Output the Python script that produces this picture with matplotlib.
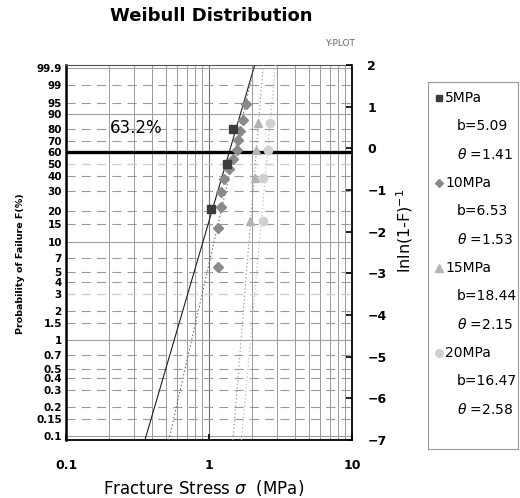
import numpy as np
import matplotlib.pyplot as plt

plt.rcParams['font.family'] = ['DejaVu Sans']
plt.rcParams['lines.scale_dashes'] = False

# stress (MPa) and median-rank failure probability (%)
s5 = [1.03, 1.34, 1.48]
f5 = [20.6, 50.0, 79.4]
s10 = [1.16, 1.16, 1.21, 1.22, 1.27, 1.38, 1.48, 1.57, 1.59, 1.66, 1.74, 1.81]
f10 = [5.6, 13.7, 21.8, 29.8, 37.9, 46.0, 54.0, 62.1, 70.2, 78.2, 86.3, 94.4]
s15 = [1.94, 2.10, 2.12, 2.21]
f15 = [15.9, 38.6, 61.4, 84.1]
s20 = [2.38, 2.40, 2.57, 2.67]
f20 = [15.9, 38.6, 61.4, 84.1]

names = ['5MPa', '10MPa', '15MPa', '20MPa']
b_vals = [5.09, 6.53, 18.44, 16.47]
theta_vals = [1.41, 1.53, 2.15, 2.58]

f_ticks = [99.9, 99, 95, 90, 80, 70, 60, 50, 40, 30, 20, 15, 10, 7, 5, 4, 3, 2,
           1.5, 1, 0.7, 0.5, 0.4, 0.3, 0.2, 0.15, 0.1]
f_solid = [99.9, 90, 10, 1, 0.1]
f_light = [50, 3]
f_thick = 60
y_right = [2, 1, 0, -1, -2, -3, -4, -5, -6, -7]


def wy(f):
    f = np.asarray(f, dtype=float) / 100.0
    return np.log(-np.log(1.0 - f))


fig = plt.figure(figsize=(5.2, 4.98), dpi=100)
W, H = 520.0, 498.0
ax = fig.add_axes([66 / W, 1 - 440 / H, 286 / W, 375 / H])
ax.set_xscale('log')
ax.set_xlim(0.1, 10)
ax.set_ylim(-7, 2)

# grid
for v in list(np.arange(0.2, 1.0, 0.1)) + list(np.arange(2, 10, 1)):
    ax.axvline(v, color='#9a9a9a', lw=0.7, zorder=1)
ax.axvline(1, color='#707070', lw=0.8, zorder=1)
for f in f_ticks:
    y = wy(f)
    if f == f_thick:
        ax.axhline(y, color='black', lw=2.4, zorder=3)
    elif f in f_solid:
        ax.axhline(y, color='#a0a0a0', lw=0.8, zorder=1)
    elif f in f_light:
        ax.axhline(y, color='#cfcfcf', lw=1.0, dashes=(6.5, 4.5), zorder=1)
    else:
        ax.axhline(y, color='#9a9a9a', lw=0.8, dashes=(6.5, 4.5), zorder=1)

# fitted lines
yy = np.linspace(-7, 2, 50)
line_styles = [('#202020', '-'), ('#666666', ':'), ('#9a9a9a', ':'), ('#bdbdbd', ':')]
for bb, th, (c, ls) in zip(b_vals, theta_vals, line_styles):
    ax.plot(th * np.exp(yy / bb), yy, color=c, ls=ls, lw=0.8, zorder=4)

# data points
ax.plot(s5, wy(f5), 's', color='#3c3c3c', ms=6, zorder=6)
ax.plot(s10, wy(f10), 'D', color='#8a8a8a', ms=4.8, zorder=5)
ax.plot(s15, wy(f15), '^', color='#b4b4b4', ms=6, zorder=5)
ax.plot(s20, wy(f20), 'o', color='#d0d0d0', ms=6, zorder=5)

ax.text(0.31, 0.5, '63.2%', fontsize=12, ha='center', va='center', zorder=7)

# axes styling
ax.set_yticks(wy(f_ticks))
ax.set_yticklabels([str(f) for f in f_ticks], fontsize=7.5, fontweight='bold')
ax.tick_params(axis='y', length=0, pad=3)
ax.set_xticks([0.1, 1, 10])
ax.set_xticklabels(['0.1', '1', '10'], fontsize=9, fontweight='bold')
ax.xaxis.set_minor_locator(plt.NullLocator())
ax.tick_params(axis='x', direction='in', length=4, width=1.2, pad=14)
ax.spines['left'].set_linewidth(1.8)
ax.spines['bottom'].set_linewidth(1.3)
ax.spines['right'].set_linewidth(1.3)
ax.spines['top'].set_linewidth(0.8)
ax.spines['top'].set_color('#555555')

ax2 = ax.twinx()
ax2.set_ylim(-7, 2)
ax2.set_yticks(y_right)
ax2.set_yticklabels([str(v).replace('-', '\u2212') for v in y_right], fontsize=9, fontweight='bold')
ax2.tick_params(axis='y', direction='in', length=4, width=1.2, pad=11)
for sp in ax2.spines.values():
    sp.set_visible(False)

# texts
fig.text(211 / W, 1 - 16 / H, 'Weibull Distribution', fontsize=13, fontweight='bold',
         ha='center', va='center')
fig.text(340 / W, 1 - 44 / H, 'Y-PLOT', fontsize=6.5, color='#666666', ha='center', va='center')
fig.text(204 / W, 1 - 488 / H, 'Fracture Stress $\\sigma$  (MPa)', fontsize=12,
         ha='center', va='center')
fig.text(21 / W, 1 - 264 / H, 'Probability of Failure F(%)', fontsize=6.8, fontweight='bold',
         rotation=90, ha='center', va='center')
fig.text(405 / W, 1 - 231 / H, 'lnln(1-F)$^{-1}$', fontsize=11.5, rotation=90,
         ha='center', va='center')

# legend box
lg = fig.add_axes([428 / W, 1 - 449 / H, 90 / W, 367 / H])
lg.set_xlim(0, 90)
lg.set_ylim(367, 0)
lg.set_xticks([])
lg.set_yticks([])
for sp in lg.spines.values():
    sp.set_color('#999999')
    sp.set_linewidth(0.8)
markers = [('s', '#3c3c3c', 5), ('D', '#8a8a8a', 4), ('^', '#b4b4b4', 5.5), ('o', '#d0d0d0', 5.5)]
row = 28.3
for i, (nm, bb, th) in enumerate(zip(names, b_vals, theta_vals)):
    y0 = 16 + 3 * i * row
    m, c, ms = markers[i]
    lg.plot([11], [y0], m, color=c, ms=ms)
    lg.text(17, y0, nm, fontsize=10, va='center', ha='left')
    lg.text(29, y0 + row, 'b=%.2f' % bb, fontsize=10, va='center', ha='left')
    lg.text(29, y0 + 2 * row, '$\\theta$ =%.2f' % th, fontsize=10, va='center', ha='left')

fig.savefig('out.png', dpi=100)
